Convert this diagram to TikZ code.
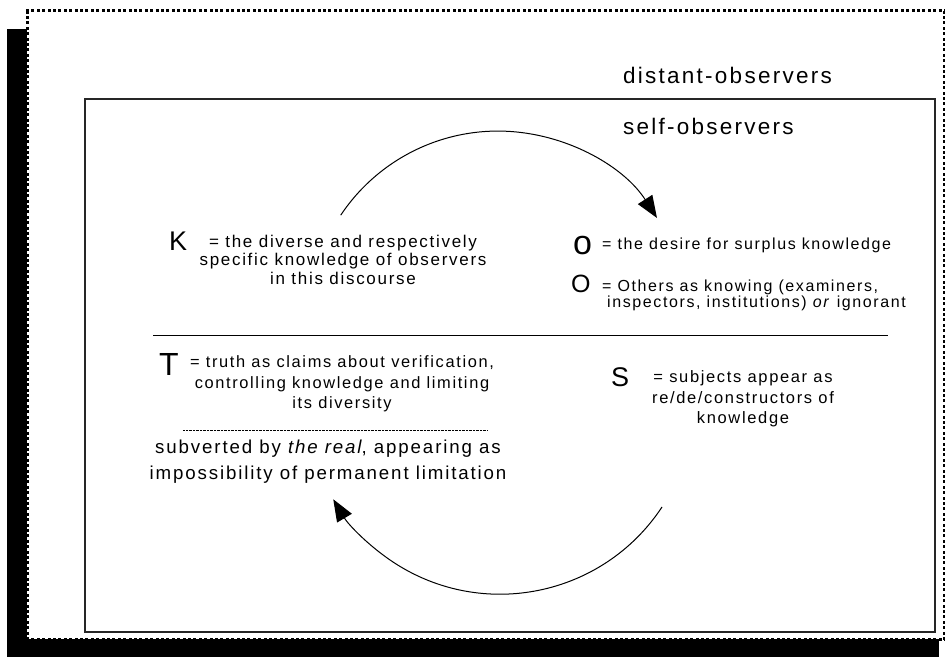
\documentclass[tikz,border=0pt]{standalone}
\usepackage{fontspec}
\newfontfamily\arl[LetterSpace=10]{Liberation Sans}
\newfontfamily\arlplain{Liberation Sans}
\usetikzlibrary{arrows.meta}
\tikzset{
  txt/.style={inner sep=0pt, anchor=base, font=\arl\fontsize{#1}{#1}\selectfont},
  txtw/.style={inner sep=0pt, anchor=base west, font=\arl\fontsize{#1}{#1}\selectfont},
  big/.style={inner sep=0pt, anchor=base west, font=\arlplain\fontsize{#1}{#1}\selectfont},
  cyc/.style={line width=1pt, -{Triangle[length=22pt,width=17pt]}},
  dotsq/.style={fill=black},
  inbox/.style={line width=1.4pt, draw=black!85},
}
\begin{document}
\begin{tikzpicture}[x=1pt,y=1pt]
\useasboundingbox (0,0) rectangle (945,657);
% shadow and outer dotted frame
\fill[black] (7,0) rectangle (939,628);
\fill[white] (27,18) rectangle (944,647);
\foreach \x in {26,31.4,...,944} {
  \fill[dotsq] (\x,645) rectangle ++(3,3.2);
  \fill[dotsq] (\x,16) rectangle ++(3,3.2);
}
\foreach \y in {17,22.4,...,647} {
  \fill[dotsq] (25.5,\y) rectangle ++(3.2,3);
  \fill[dotsq] (942.5,\y) rectangle ++(3.2,3);
}
% inner box
\draw[inbox] (85,25) rectangle (935,558);
% titles
\node[txtw=22.5] (dist) at (623,573) {distant-observers};
\node[txtw=22.5] (self) at (623,522) {self-observers};
% K block
\node[big=27] (K) at (169,406) {K};
\node[txt=17] (k1) at (343,409) {= the diverse and respectively};
\node[txt=17] (k2) at (343,391) {specific knowledge of observers};
\node[txt=17] (k3) at (343,372) {in this discourse};
% o / O block
\node[big=34] (o) at (573,402) {o};
\node[txtw=16] (o1) at (602,407) {= the desire for surplus knowledge};
\node[big=25] (O) at (571,364) {O};
\node[txtw=16] (O1) at (602,365) {= Others as knowing (examiners,};
\node[txtw=16] (O2) at (607,349) {inspectors, institutions) \textit{or} ignorant};
% separator
\coordinate (hl) at (153,322);
\coordinate (hr) at (888,322);
\draw[line width=1pt] (hl) -- (hr);
% T block
\node[big=32] (T) at (159,282) {T};
\node[txt=16.4] (t1) at (342,290) {= truth as claims about verification,};
\node[txt=16.4] (t2) at (342,269) {controlling knowledge and limiting};
\node[txt=16.4] (t3) at (342,249) {its diversity};
\coordinate (dl) at (183,227);
\coordinate (dr) at (488,227);
\draw[line width=0.6pt, dash pattern=on 0.6pt off 0.8pt] (dl) -- (dr);
\node[txt=18.7] (r1) at (328,204) {subverted by \textit{the real}, appearing as};
\node[txt=18.7] (r2) at (328,178) {impossibility of permanent limitation};
% S block
\node[big=27] (S) at (611,271) {S};
\node[txt=16.5] (s1) at (743,275) {= subjects appear as};
\node[txt=16.5] (s2) at (743,254) {re/de/constructors of};
\node[txt=16.5] (s3) at (743,234) {knowledge};
% cycle arrows
\coordinate (topstart) at (340.7,441.8);
\draw[cyc] (topstart) arc[start angle=146.3, end angle=32.7, radius=189];
\coordinate (botstart) at (662,150);
\draw[cyc] (botstart) arc[start angle=-33.4, end angle=-149.3, radius=194];
\end{tikzpicture}
\end{document}
